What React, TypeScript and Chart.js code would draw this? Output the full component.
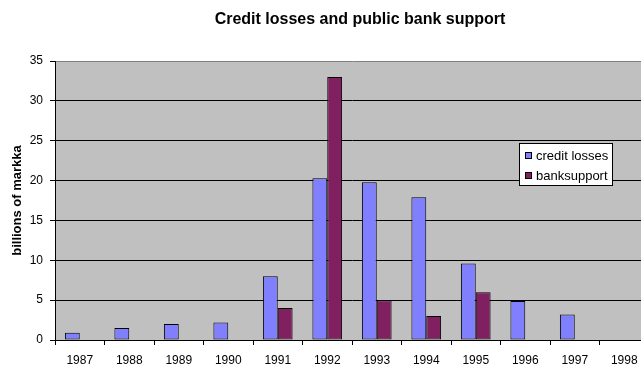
import React, { useEffect, useRef } from "react";
import { Chart, registerables } from "chart.js";

Chart.register(...registerables);

const titleText = "Credit losses and public bank support";
const yAxisTitle = "billions of markka";
const years = ["1987", "1988", "1989", "1990", "1991", "1992", "1993", "1994", "1995", "1996", "1997", "1998"];
const creditLosses: (number | null)[] = [0.9, 1.5, 2.0, 2.2, 8.0, 20.3, 19.8, 17.9, 9.6, 4.9, 3.2, null];
const bankSupport: (number | null)[] = [null, null, null, null, 4.0, 33.0, 5.0, 3.0, 6.0, null, null, null];
const seriesNames = ["credit losses", "banksupport"];
const seriesColors = ["#8080FF", "#802060"];

const FONT = "'Liberation Sans', Arial, sans-serif";

const bgPlugin = {
  id: "plotBg",
  beforeDraw(chart: any) {
    const { ctx, chartArea } = chart;
    ctx.save();
    ctx.fillStyle = "#C0C0C0";
    ctx.fillRect(chartArea.left, chartArea.top, chartArea.right - chartArea.left, chartArea.bottom - chartArea.top);
    ctx.restore();
  },
};

const titlePlugin = {
  id: "customTitle",
  afterDraw(chart: any) {
    const { ctx } = chart;
    ctx.save();
    ctx.font = `bold 16px ${FONT}`;
    ctx.fillStyle = "#000";
    ctx.textAlign = "center";
    ctx.textBaseline = "alphabetic";
    ctx.fillText(titleText, 360, 24);
    ctx.restore();
  },
};

const legendPlugin = {
  id: "customLegend",
  afterDraw(chart: any) {
    const { ctx } = chart;
    ctx.save();
    const x = 519.5, y = 143.5, w = 93, h = 42;
    ctx.fillStyle = "#FFFFFF";
    ctx.fillRect(x, y, w, h);
    ctx.strokeStyle = "#000";
    ctx.lineWidth = 1;
    ctx.strokeRect(x, y, w, h);
    ctx.font = `13px ${FONT}`;
    ctx.textAlign = "left";
    ctx.textBaseline = "alphabetic";
    chart.data.datasets.forEach((ds: any, i: number) => {
      const my = 152 + i * 20;
      ctx.fillStyle = ds.backgroundColor;
      ctx.fillRect(525, my, 7, 7);
      ctx.strokeStyle = "#000";
      ctx.strokeRect(525.5, my + 0.5, 6, 6);
      ctx.fillStyle = "#000";
      ctx.fillText(ds.label, 536, 160 + i * 20);
    });
    ctx.restore();
  },
};

export default function App() {
  const ref = useRef<HTMLCanvasElement | null>(null);
  useEffect(() => {
    if (!ref.current) return;
    const chart = new Chart(ref.current, {
      type: "bar",
      data: {
        labels: years,
        datasets: [
          {
            label: seriesNames[0],
            data: creditLosses,
            backgroundColor: seriesColors[0],
            borderColor: "#000",
            borderWidth: 1,
            borderSkipped: false,
            categoryPercentage: 0.6,
            barPercentage: 1.0,
          },
          {
            label: seriesNames[1],
            data: bankSupport,
            backgroundColor: seriesColors[1],
            borderColor: "#000",
            borderWidth: 1,
            borderSkipped: false,
            categoryPercentage: 0.6,
            barPercentage: 1.0,
          },
        ],
      },
      options: {
        responsive: false,
        animation: false,
        devicePixelRatio: 1,
        layout: { padding: { top: 61, right: 11, left: 0, bottom: 0 } },
        plugins: {
          legend: { display: false },
          title: { display: false },
          tooltip: { enabled: false },
        },
        scales: {
          x: {
            afterFit(scale: any) {
              scale.height = 27;
            },
            grid: {
              offset: true,
              drawOnChartArea: false,
              drawTicks: true,
              tickLength: 5,
              color: "#000",
            },
            border: { color: "#000", width: 1 },
            ticks: {
              color: "#000",
              font: { family: FONT, size: 12 },
              padding: 8,
              maxRotation: 0,
              autoSkip: false,
            },
          },
          y: {
            min: 0,
            max: 35,
            afterFit(scale: any) {
              scale.width = 55;
            },
            grid: {
              color: (c: any) => (c.tick && c.tick.value === 35 ? "#808080" : "#000"),
              tickColor: "#000",
              tickLength: 5,
              drawTicks: true,
            },
            border: { color: "#000", width: 1 },
            ticks: {
              stepSize: 5,
              color: "#000",
              font: { family: FONT, size: 12 },
              padding: 7,
            },
            title: {
              display: true,
              text: yAxisTitle,
              color: "#000",
              font: { family: FONT, size: 13, weight: "bold" },
              padding: { top: 10, bottom: 0 },
            },
          },
        },
      },
      plugins: [bgPlugin, titlePlugin, legendPlugin],
    });
    return () => chart.destroy();
  }, []);
  return (
    <div style={{ position: "fixed", left: 0, top: 0, width: 641, height: 367, overflow: "hidden", background: "#fff" }}>
      <canvas ref={ref} width={660} height={367} style={{ display: "block" }} />
    </div>
  );
}
